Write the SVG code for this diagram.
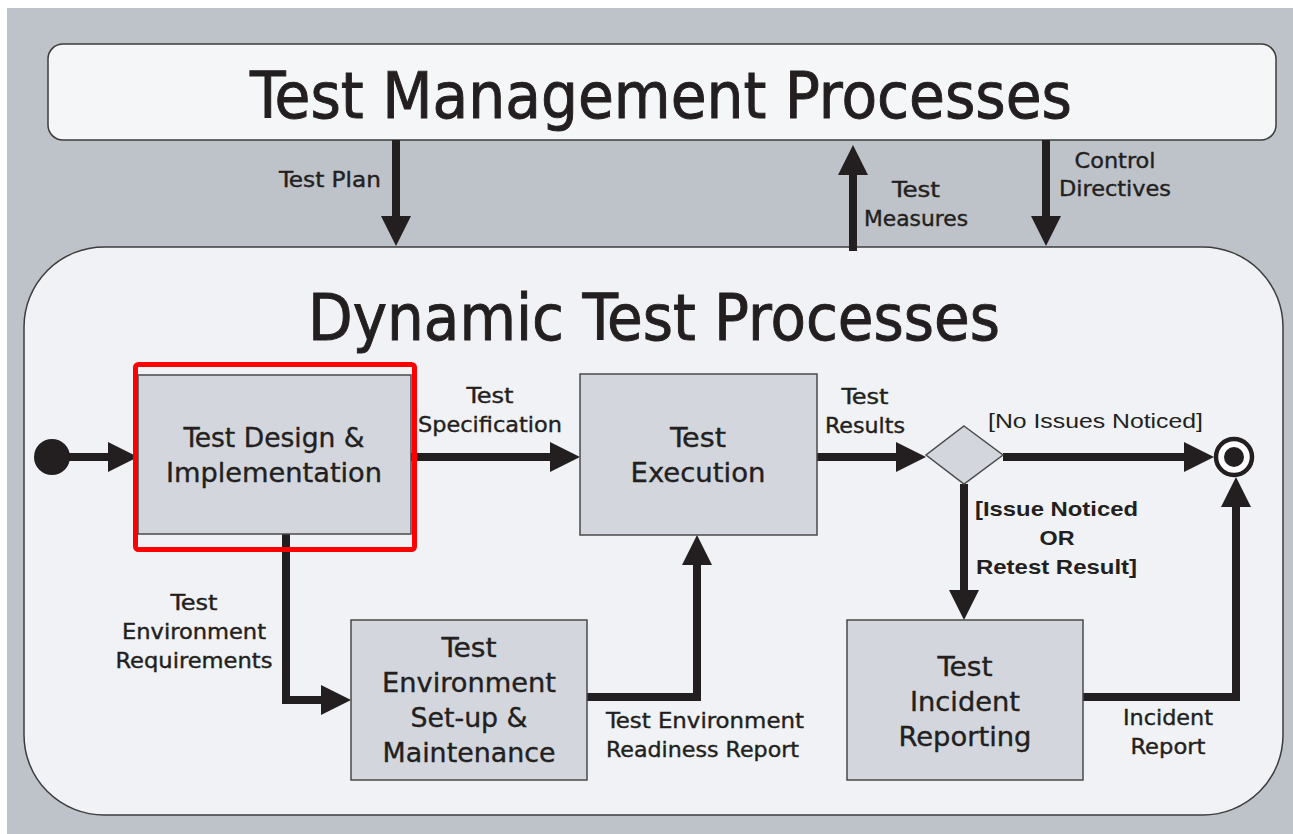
<svg xmlns="http://www.w3.org/2000/svg" width="1293" height="834" viewBox="0 0 1293 834">
<style>
.t{font-family:"DejaVu Sans Condensed","DejaVu Sans",sans-serif;fill:#231f20;stroke:#231f20;stroke-width:0.35}
.big{font-size:64px;stroke-width:0.9}
.nd{font-size:27px;text-anchor:middle}
.lb{font-size:21px;text-anchor:middle}
.lbl{font-size:21px}
.nr{font-family:"Liberation Sans Narrow","Liberation Sans",sans-serif;fill:#231f20;font-size:21px}
.node{fill:#d3d7dd;stroke:#4a4a4a;stroke-width:1.5}
.ln{fill:none;stroke:#231f20;stroke-width:8}
</style>
<defs>
<marker id="ah" viewBox="0 0 30 30" refX="8" refY="15" markerWidth="30" markerHeight="30" markerUnits="userSpaceOnUse" orient="auto">
<path d="M0,0 L30,15 L0,30 z" fill="#231f20"/>
</marker>
</defs>
<rect x="0" y="0" width="1293" height="834" fill="#ffffff"/>
<rect x="7" y="8" width="1286" height="826" fill="#bec2c9"/>
<g id="test-management">
<rect x="48" y="44" width="1228" height="96" rx="15" fill="#f4f6f8" stroke="#3c3c3c" stroke-width="1.5"/>
<text class="t big" x="250" y="118" textLength="822" lengthAdjust="spacingAndGlyphs">Test Management Processes</text>
</g>
<g id="dynamic-test">
<rect x="24" y="247" width="1259" height="568" rx="80" fill="#f0f2f5" stroke="#3c3c3c" stroke-width="1.5"/>
<text class="t big" x="308" y="340" textLength="692" lengthAdjust="spacingAndGlyphs">Dynamic Test Processes</text>
</g>
<g id="connectors">
<line class="ln" x1="396" y1="140" x2="396" y2="224" marker-end="url(#ah)"/>
<line class="ln" x1="853" y1="251" x2="853" y2="167" marker-end="url(#ah)"/>
<line class="ln" x1="1046" y1="140" x2="1046" y2="224" marker-end="url(#ah)"/>
<line class="ln" x1="52" y1="457" x2="116" y2="457" marker-end="url(#ah)"/>
<line class="ln" x1="411" y1="457" x2="558" y2="457" marker-end="url(#ah)"/>
<line class="ln" x1="817" y1="457" x2="904" y2="457" marker-end="url(#ah)"/>
<line class="ln" x1="1003" y1="457" x2="1192" y2="457" marker-end="url(#ah)"/>
<line class="ln" x1="964" y1="484" x2="964" y2="598" marker-end="url(#ah)"/>
<polyline class="ln" points="286,534 286,700 329,700" marker-end="url(#ah)"/>
<polyline class="ln" points="587,697 697,697 697,557" marker-end="url(#ah)"/>
<polyline class="ln" points="1083,697 1236,697 1236,499" marker-end="url(#ah)"/>
<text class="t lbl" x="381" y="187" text-anchor="end" textLength="102" lengthAdjust="spacingAndGlyphs">Test Plan</text>
<text class="t lb" x="916" y="197" textLength="48" lengthAdjust="spacingAndGlyphs">Test</text>
<text class="t lb" x="916" y="226" textLength="104" lengthAdjust="spacingAndGlyphs">Measures</text>
<text class="t lb" x="1115" y="168" textLength="81" lengthAdjust="spacingAndGlyphs">Control</text>
<text class="t lb" x="1115" y="196" textLength="112" lengthAdjust="spacingAndGlyphs">Directives</text>
<text class="t lb" x="490" y="403" textLength="47" lengthAdjust="spacingAndGlyphs">Test</text>
<text class="t lb" x="490" y="432" textLength="144" lengthAdjust="spacingAndGlyphs">Specification</text>
<text class="t lb" x="865" y="404" textLength="47" lengthAdjust="spacingAndGlyphs">Test</text>
<text class="t lb" x="865" y="433" textLength="80" lengthAdjust="spacingAndGlyphs">Results</text>
<text class="nr" x="988" y="428" textLength="215" lengthAdjust="spacingAndGlyphs">[No Issues Noticed]</text>
<text class="nr" x="975" y="516" font-weight="bold" textLength="163" lengthAdjust="spacingAndGlyphs">[Issue Noticed</text>
<text class="nr" x="1057" y="545" font-weight="bold" text-anchor="middle" textLength="35" lengthAdjust="spacingAndGlyphs">OR</text>
<text class="nr" x="976" y="574" font-weight="bold" textLength="161" lengthAdjust="spacingAndGlyphs">Retest Result]</text>
<text class="t lb" x="194" y="610" textLength="47" lengthAdjust="spacingAndGlyphs">Test</text>
<text class="t lb" x="194" y="639" textLength="144" lengthAdjust="spacingAndGlyphs">Environment</text>
<text class="t lb" x="194" y="668" textLength="157" lengthAdjust="spacingAndGlyphs">Requirements</text>
<text class="t lbl" x="606" y="728" textLength="198" lengthAdjust="spacingAndGlyphs">Test Environment</text>
<text class="t lbl" x="606" y="757" textLength="193" lengthAdjust="spacingAndGlyphs">Readiness Report</text>
<text class="t lb" x="1168" y="725" textLength="90" lengthAdjust="spacingAndGlyphs">Incident</text>
<text class="t lb" x="1168" y="754" textLength="75" lengthAdjust="spacingAndGlyphs">Report</text>
</g>
<g id="start">
<circle cx="52" cy="457" r="18" fill="#231f20"/>
</g>
<g id="test-design">
<rect class="node" x="138" y="375" width="273" height="159"/>
<text class="t nd" x="274" y="447" textLength="181" lengthAdjust="spacingAndGlyphs">Test Design &amp;</text>
<text class="t nd" x="274" y="482" textLength="216" lengthAdjust="spacingAndGlyphs">Implementation</text>
<rect x="135.5" y="364.5" width="279" height="185" rx="3" fill="none" stroke="#ff0000" stroke-width="5"/>
</g>
<g id="test-execution">
<rect class="node" x="580" y="374" width="237" height="161"/>
<text class="t nd" x="698" y="447" textLength="56" lengthAdjust="spacingAndGlyphs">Test</text>
<text class="t nd" x="698" y="482" textLength="135" lengthAdjust="spacingAndGlyphs">Execution</text>
</g>
<g id="decision">
<polygon points="964,426 1003,455 964,484 926,455" fill="#d3d7dd" stroke="#4a4a4a" stroke-width="1.5"/>
</g>
<g id="end">
<circle cx="1234" cy="457" r="18" fill="#ffffff" stroke="#231f20" stroke-width="4.5"/>
<circle cx="1234" cy="457" r="10" fill="#231f20"/>
</g>
<g id="test-environment">
<rect class="node" x="351" y="620" width="236" height="160"/>
<text class="t nd" x="469" y="657" textLength="55" lengthAdjust="spacingAndGlyphs">Test</text>
<text class="t nd" x="469" y="692" textLength="174" lengthAdjust="spacingAndGlyphs">Environment</text>
<text class="t nd" x="469" y="727" textLength="117" lengthAdjust="spacingAndGlyphs">Set-up &amp;</text>
<text class="t nd" x="469" y="762" textLength="173" lengthAdjust="spacingAndGlyphs">Maintenance</text>
</g>
<g id="test-incident">
<rect class="node" x="847" y="620" width="236" height="160"/>
<text class="t nd" x="965" y="676" textLength="55" lengthAdjust="spacingAndGlyphs">Test</text>
<text class="t nd" x="965" y="711" textLength="110" lengthAdjust="spacingAndGlyphs">Incident</text>
<text class="t nd" x="965" y="746" textLength="133" lengthAdjust="spacingAndGlyphs">Reporting</text>
</g>
</svg>
